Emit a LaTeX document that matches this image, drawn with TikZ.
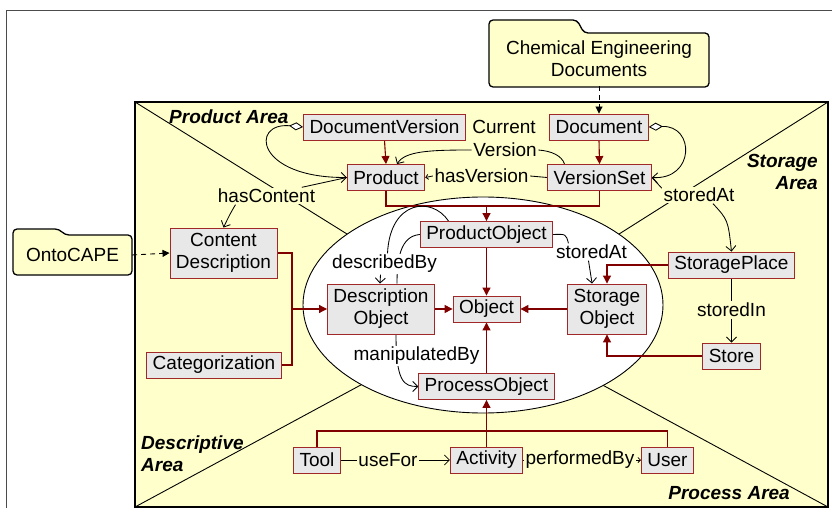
\documentclass[tikz,border=0pt]{standalone}
\usepackage{fontspec}
\setmainfont{Liberation Sans}
\usetikzlibrary{arrows.meta}
\definecolor{bgyellow}{RGB}{255,255,204}
\definecolor{boxfill}{RGB}{232,232,232}
\definecolor{isared}{RGB}{128,0,0}
\definecolor{boxred}{RGB}{160,40,40}
\pgfdeclarelayer{back}
\pgfdeclarelayer{mid}
\pgfsetlayers{back,mid,main}
\tikzset{
 cls/.style={draw=boxred, fill=boxfill, line width=0.9pt, inner xsep=6pt, inner ysep=3pt, minimum height=26pt},
 cls2/.style={cls, align=center, minimum height=50pt},
 lbl/.style={inner sep=1.5pt, fill=bgyellow},
 lblw/.style={inner sep=1.5pt, fill=white},
 area/.style={font=\fontsize{19}{22}\selectfont\bfseries\itshape, inner sep=0pt},
 foldertext/.style={inner sep=0pt, align=center},
 folder/.style={fill=bgyellow, draw=black, line width=1.3pt, rounded corners=4pt},
 isa/.style={draw=isared, line width=1.1pt},
 isaarrow/.style={isa, -{Triangle[length=8pt,width=8pt]}},
 assoc/.style={draw=black, line width=0.85pt},
 assocarrow/.style={assoc, -{Straight Barb[length=5pt,width=10pt]}},
 tinyarrow/.style={assoc, -{Straight Barb[length=2.5pt,width=5pt]}},
 dasharrow/.style={draw=black, line width=0.9pt, dash pattern=on 5pt off 4pt, -{Triangle[length=7pt,width=7pt]}},
}
\begin{document}
\begin{tikzpicture}[x=1pt,y=-1pt,font=\fontsize{19}{22}\selectfont]
\useasboundingbox (0,0) rectangle (832,513);
% ---------- classes
\node[cls] (DV) at (384.5,127) {DocumentVersion};
\node[cls] (Doc) at (599,127) {Document};
\node[cls] (Prod) at (386,177.5) {Product};
\node[cls] (VS) at (599.5,177.5) {VersionSet};
\node[cls] (PO) at (486.5,234.5) {ProductObject};
\node[cls] (Obj) at (486.5,309) {Object};
\node[cls2] (DO) at (381,309) {Description\\Object};
\node[cls2] (SO) at (607,309) {Storage\\Object};
\node[cls] (PrO) at (486.5,386.5) {ProcessObject};
\node[cls] (SP) at (731.5,265) {StoragePlace};
\node[cls] (Store) at (731.5,356) {Store};
\node[cls2] (CD) at (223.5,253) {Content\\Description};
\node[cls] (Cat) at (214,365) {Categorization};
\node[cls] (Tool) at (317,460) {Tool};
\node[cls] (Act) at (486.5,460) {Activity};
\node[cls] (User) at (667.5,460) {User};
% ---------- folders (text)
\node[foldertext, minimum width=220pt, minimum height=54pt] (ced) at (599,59) {Chemical Engineering\\Documents};
\node[foldertext, minimum width=119pt, minimum height=40pt] (onto) at (72.5,255) {OntoCAPE};
% ---------- area labels
\node[area, anchor=west] (pa) at (169,117) {Product Area};
\node[area, anchor=east, align=right] (sta) at (818,172) {Storage\\Area};
\node[area, anchor=west, align=left] (da) at (141,453.5) {Descriptive\\Area};
\node[area, anchor=east] (pra) at (790,493) {Process Area};
% ---------- association labels
\node[lbl] (cvA) at (504,127) {Current};
\node[lbl] (cvB) at (505,150) {Version};
\node[lbl] (hv) at (481.5,176) {hasVersion};
\node[lbl] (hc) at (266.5,196) {hasContent};
\node[lbl] (sa1) at (699,195) {storedAt};
\node[lblw] (sa2) at (591.5,252) {storedAt};
\node[lblw] (db) at (384.5,264) {describedBy};
\node[lblw] (mb) at (416.5,356) {manipulatedBy};
\node[lbl] (si) at (731.5,310) {storedIn};
\node[lbl] (uf) at (388,460) {useFor};
\node[lbl] (pb) at (580,460) {performedBy};
% ---------- merge points
\coordinate (m1) at (486.5,206);
\coordinate (m2) at (292,309);
\coordinate (m3) at (486.5,431);

\begin{pgfonlayer}{back}
\draw[line width=0.8pt, black!70] (6,508) -- (6,10) -- (832,10);
\filldraw[fill=bgyellow, draw=black, line width=1.2pt] (135,102) rectangle (828,507);
\draw[line width=0.9pt] (135,102) -- (400,267);
\draw[line width=0.9pt] (828,102) -- (570,265);
\draw[line width=0.9pt] (135,507) -- (420,353);
\draw[line width=0.9pt] (828,507) -- (560,362);
\filldraw[fill=white, draw=black, line width=0.9pt] (483,305) ellipse [x radius=180, y radius=108];
\filldraw[folder] (489,87) -- (489,20) -- (577,20) -- (584,33) -- (709,33) -- (709,87) -- cycle;
\filldraw[folder] (13,275) -- (13,229) -- (59,229) -- (65,235) -- (132,235) -- (132,275) -- cycle;
\end{pgfonlayer}

\begin{pgfonlayer}{mid}
% inheritance (red)
\draw[isaarrow] (DV.south) -- (Prod.north);
\draw[isaarrow] (Doc.south) -- (VS.north);
\draw[isa] (Prod.south) |- (m1);
\draw[isa] (VS.south) |- (m1);
\draw[isaarrow] (m1) -- (PO.north);
\draw[isaarrow] (PO.south) -- (Obj.north);
\draw[isaarrow] (DO.east) -- (Obj.west);
\draw[isaarrow] (SO.west) -- (Obj.east);
\draw[isaarrow] (PrO.north) -- (Obj.south);
\draw[isa] (CD.east) -| (m2);
\draw[isa] (Cat.east) -| (m2);
\draw[isaarrow] (m2) -- (DO.west);
\draw[isaarrow] (SP.west) -| (SO.north);
\draw[isaarrow] (Store.west) -| (SO.south);
\draw[isa] (Tool.north) |- (m3) -| (User.north);
\draw[isaarrow] (Act.north) -- (PrO.south);
% dashed
\draw[dasharrow] (ced.south) -- (Doc.north);
\draw[dasharrow] (onto.east) -- (CD.west);
% associations
\draw[assoc, {Diamond[fill=white,length=14pt,width=8pt]}-{Straight Barb[length=5pt,width=10pt]}] (DV.west) .. controls (250,122) and (255,178) .. (Prod.west);
\draw[assoc, {Diamond[fill=white,length=14pt,width=8pt]}-{Straight Barb[length=5pt,width=10pt]}] (Doc.east) .. controls (695,125) and (695,180) .. (VS.east);
\draw[assoc] (cvB.east) .. controls (552,151) and (562,156) .. ([xshift=-35pt]VS.north);
\draw[assocarrow] (cvB.west) .. controls (430,150) and (405,151) .. ([xshift=11pt]Prod.north);
\draw[assoc] (VS.west) -- (hv.east);
\draw[tinyarrow] (hv.west) -- (Prod.east);
\draw[assoc] (Prod.west) -- ([xshift=-15pt]hc.north east);
\draw[assocarrow] ([xshift=-31pt]hc.south) .. controls (230,214) .. (CD.north);
\draw[assoc] (VS.east) -- ([yshift=-2pt]sa1.north west);
\draw[assocarrow] ([xshift=14pt]sa1.south) .. controls (728,220) .. (SP.north);
\draw[assoc] (PO.east) .. controls (566,234) .. ([xshift=14pt]sa2.north west);
\draw[assocarrow] ([xshift=-3pt]sa2.south) .. controls (591,272) .. ([xshift=-15pt]SO.north);
\draw[assoc] ([xshift=-38pt]PO.north) .. controls (432,196) and (390,200) .. ([xshift=3pt]db.north);
\draw[assocarrow] ([xshift=-4pt]db.south) -- ([xshift=-1pt]DO.north);
\draw[assoc] (PO.west) .. controls (400,236) and (397,260) .. ([xshift=16pt]DO.north);
\draw[assocarrow] ([xshift=15pt]DO.south) .. controls (396,382) and (404,386.5) .. (PrO.west);
\draw[assoc] (SP.south) -- (si.north);
\draw[assocarrow] (si.south) -- (Store.north);
\draw[assoc] (Tool.east) -- (uf.west);
\draw[assocarrow] (uf.east) -- (Act.west);
\draw[assoc] (Act.east) -- (pb.west);
\draw[tinyarrow] (pb.east) -- (User.west);
\end{pgfonlayer}
\end{tikzpicture}
\end{document}
